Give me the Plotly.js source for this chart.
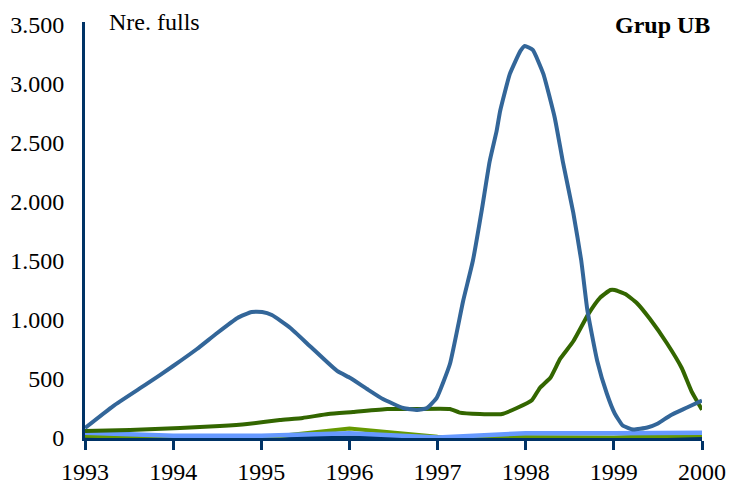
<!DOCTYPE html>
<html>
<head>
<meta charset="utf-8">
<script src="https://cdn.plot.ly/plotly-3.0.1.min.js"></script>
<style>html,body{margin:0;padding:0;background:#fff;}#chart{width:730px;height:488px;}</style>
</head>
<body>
<div id="chart"></div>
<script>
// Categories (years) for the low series
var years = [1993, 1994, 1995, 1996, 1997, 1998, 1999, 2000];
var tickLabels = ["1993","1994","1995","1996","1997","1998","1999","2000"];

// Main blue series (dense readings)
var blueX = [1993.00,1993.32,1993.70,1994.00,1994.27,1994.50,1994.73,1994.89,1995.01,1995.12,1995.33,1995.55,1995.86,1996.01,1996.20,1996.38,1996.61,1996.77,1996.88,1996.99,1997.14,1997.29,1997.40,1997.50,1997.59,1997.67,1997.71,1997.82,1997.94,1997.99,1998.08,1998.20,1998.33,1998.42,1998.54,1998.63,1998.70,1998.81,1998.92,1999.01,1999.10,1999.22,1999.38,1999.50,1999.64,1999.83,2000.00];
var blueY = [85,271,458,610,754,890,1017,1068,1068,1042,932,780,568,508,415,330,254,237,254,340,627,1161,1500,1924,2340,2602,2771,3085,3280,3322,3288,3085,2712,2347,1907,1504,1081,657,377,208,106,72,89,123,191,258,318];

// Dark green series
var greenX = [1993.00,1993.51,1994.08,1994.53,1994.84,1995.21,1995.47,1995.76,1996.04,1996.43,1996.72,1997.14,1997.25,1997.48,1997.73,1997.90,1998.07,1998.16,1998.28,1998.39,1998.54,1998.71,1998.84,1998.96,1999.01,1999.13,1999.26,1999.41,1999.60,1999.77,1999.88,2000.00];
var greenY = [59,68,85,102,119,152,170,203,220,246,246,246,215,203,203,254,320,424,510,670,820,1050,1186,1254,1254,1220,1144,1008,805,593,398,240];

// Low series (yearly)
var navyY = [5, 0, 0, 5, 0, 0, 0, 12];
var limeY = [20, 0, 0, 80, 10, 5, 5, 25];
var lightBlueY = [45, 20, 20, 40, 5, 40, 40, 45];

var traces = [
  {x: years, y: navyY, type: 'scatter', mode: 'lines', line: {color: '#003366', width: 4}, hoverinfo: 'skip'},
  {x: years, y: limeY, type: 'scatter', mode: 'lines', line: {color: '#669900', width: 4}, hoverinfo: 'skip'},
  {x: years, y: lightBlueY, type: 'scatter', mode: 'lines', line: {color: '#6699FF', width: 4.5}, hoverinfo: 'skip'},
  {x: greenX, y: greenY, type: 'scatter', mode: 'lines', line: {color: '#336600', width: 4, shape: 'spline', smoothing: 0.4}, hoverinfo: 'skip'},
  {x: blueX, y: blueY, type: 'scatter', mode: 'lines', line: {color: '#336699', width: 4, shape: 'spline', smoothing: 0.4}, hoverinfo: 'skip'}
];

var font = {family: 'Liberation Serif', size: 24, color: '#000'};

var layout = {
  width: 730, height: 488,
  margin: {l: 85, r: 28, t: 22, b: 50},
  paper_bgcolor: '#fff', plot_bgcolor: '#fff',
  showlegend: false,
  separators: ',.',
  font: font,
  xaxis: {
    range: [1993, 2000],
    tickvals: years, ticktext: tickLabels,
    showgrid: false, zeroline: false,
    showline: true, linecolor: '#003366', linewidth: 3,
    ticks: 'outside', ticklen: 9, tickwidth: 3, tickcolor: '#003366',
    tickfont: font, ticklabelstandoff: 1
  },
  yaxis: {
    range: [0, 3525],
    tickvals: [0,500,1000,1500,2000,2500,3000,3500],
    separatethousands: true,
    tickformat: ',d',
    showgrid: false, zeroline: false,
    showline: true, linecolor: '#003366', linewidth: 3,
    ticks: '', tickfont: font, ticklabelstandoff: 13
  },
  annotations: [
    {xref: 'paper', yref: 'paper', x: 0.035, y: 1.0, xanchor: 'left', yanchor: 'middle', text: 'Nre. fulls', showarrow: false, font: font},
    {xref: 'paper', yref: 'paper', x: 1.017, y: 0.993, xanchor: 'right', yanchor: 'middle', text: '<b>Grup UB</b>', showarrow: false, font: font}
  ]
};

Plotly.newPlot('chart', traces, layout, {displayModeBar: false, staticPlot: true});
</script>
</body>
</html>
